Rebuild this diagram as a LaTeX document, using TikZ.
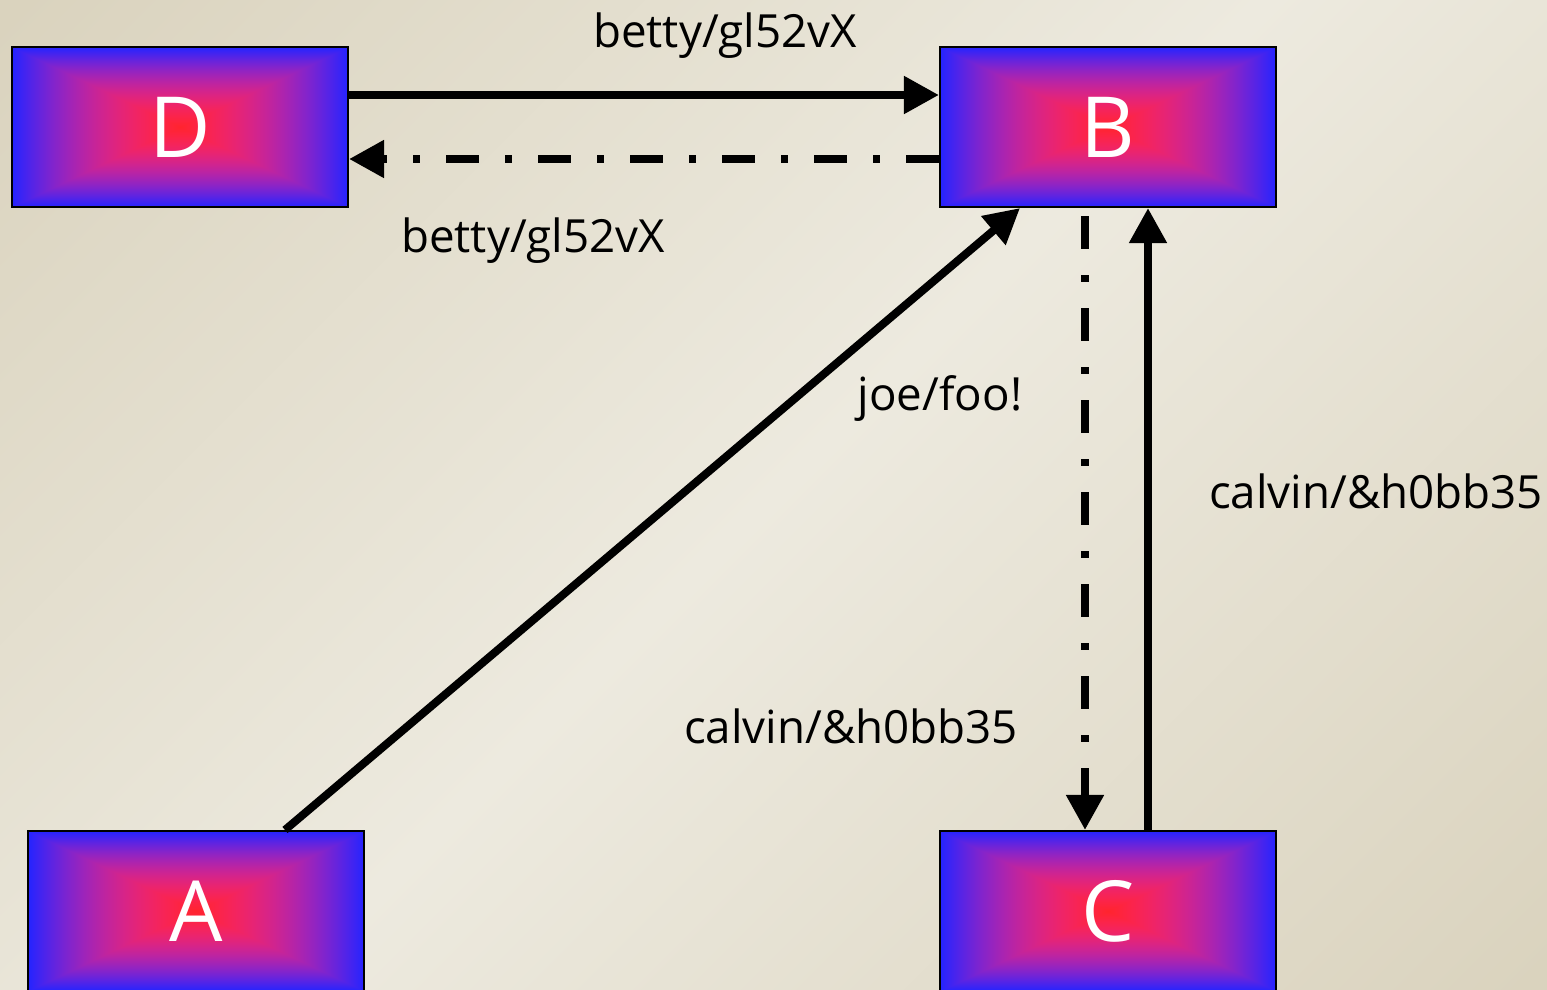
\documentclass[tikz,border=0pt]{standalone}
\usepackage{fontspec}
\setmainfont{Open Sans}
\usetikzlibrary{arrows.meta,positioning}

\definecolor{paperdark}{RGB}{218,211,190}
\definecolor{paperlight}{RGB}{237,234,223}
\pgfdeclarehorizontalshading{paper}{100bp}{color(0bp)=(paperdark); color(15bp)=(paperdark);
  color(50bp)=(paperlight); color(85bp)=(paperdark); color(100bp)=(paperdark)}
% red core fading to blue at the rim, square contours
\pgfdeclarefunctionalshading{boxglow}{\pgfpoint{-50bp}{-50bp}}{\pgfpoint{50bp}{50bp}}{}{
  abs exch abs 2 copy sub abs add add 2 div 25 div
  dup dup mul 0.86 mul 1 exch sub
  exch dup 0 mul 0.14 add
  exch 0.82 mul 0.18 add
}

\begin{document}
\begin{tikzpicture}[font=\fontsize{13pt}{15pt}\selectfont,
  >={Triangle[length=3.5mm,width=3.6mm]},
  box/.style={draw=black,line width=0.6pt,shading=boxglow,minimum width=33.6mm,
              minimum height=16mm,inner sep=0pt,text=white,
              font=\fontsize{24pt}{28pt}\selectfont},
  fwd/.style={->,line width=0.8mm,black},
  ret/.style={->,line width=0.8mm,black,dash pattern=on 3.3mm off 2.6mm on 0.7mm off 2.6mm},
  lab/.style={anchor=base,inner sep=0pt}]
\useasboundingbox (0,0) rectangle (15.47,-9.90);
\shade[shading=paper,shading angle=-45] (0,0) rectangle (15.47,-9.90);

\node[box] (D) at (1.80,-1.27) {D};
\node[box] (B) at (11.08,-1.27) {B};
\node[box] (A) at (1.96,-9.11) {A};
\node[box] (C) at (11.08,-9.11) {C};

\draw[fwd] ([yshift=3.2mm]D.east) -- ([yshift=3.2mm]B.west);
\draw[ret] ([yshift=-3.2mm]B.west) -- ([yshift=-3.2mm]D.east);
\draw[fwd] ([xshift=8.9mm]A.north) -- ([xshift=-8.8mm]B.south);
\draw[ret,dash phase=8.4mm] ([xshift=-2.3mm]B.south) -- ([xshift=-2.3mm]C.north);
\draw[fwd] ([xshift=4mm]C.north) -- ([xshift=4mm]B.south);

\node[lab] (dbtop) at (7.25,-0.48) {betty/gl52vX};
\node[lab] (bdlow) at (5.33,-2.52) {betty/gl52vX};
\node[lab] (ab)    at (9.40,-4.10) {joe/foo!};
\node[lab] (bc)    at (8.51,-7.43) {calvin/\&h0bb35};
\node[lab] (cb)    at (13.76,-5.08) {calvin/\&h0bb35};
\end{tikzpicture}
\end{document}
